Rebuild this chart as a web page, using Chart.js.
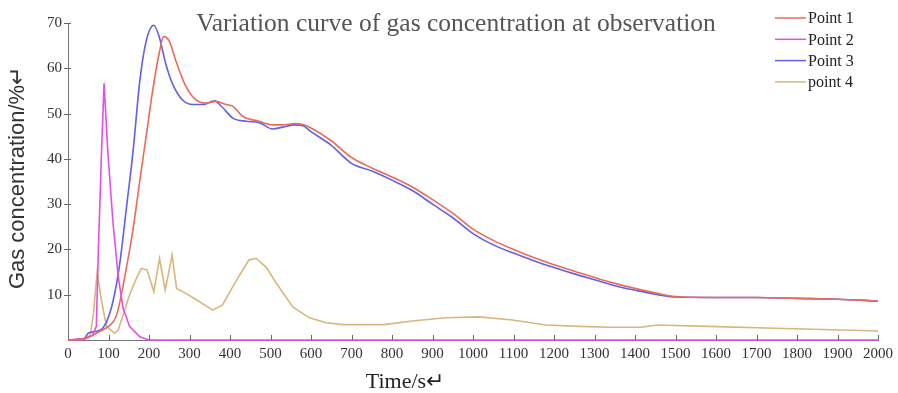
<!DOCTYPE html>
<html>
<head>
<meta charset="utf-8">
<script src="https://cdn.jsdelivr.net/npm/chart.js@4.4.1/dist/chart.umd.min.js"></script>
<style>
  body { margin: 0; background: #fff; }
  #wrap { width: 898px; height: 393px; position: relative; }
</style>
</head>
<body>
<div id="wrap"><canvas id="gasChart"></canvas></div>
<script>
// values
const seriesNames = ["Point 1", "Point 2", "Point 3", "point 4"]
const seriesColors = ["#ec6a5a", "#e44fe4", "#6060e8", "#d8b67c"]

const p1Time = [0, 40, 60, 80, 100, 120, 144, 161, 177, 193, 210, 226, 236, 250, 267, 291, 316, 340, 365, 390, 407, 431, 472, 505, 530, 560, 580, 600, 650, 700, 750, 800, 850, 900, 950, 1000, 1050, 1100, 1150, 1200, 1250, 1300, 1350, 1400, 1450, 1500, 1600, 1700, 1800, 1900, 2000]
const p1Conc = [0, 0.2, 1, 2, 3, 5.5, 15.8, 24.7, 35, 45, 55.6, 63.7, 67, 66, 61.5, 56, 53, 52.3, 52.7, 52, 51.6, 49.4, 48.3, 47.5, 47.5, 47.8, 47.6, 46.8, 44, 40.3, 38, 36, 33.8, 31, 28, 24.5, 22, 20, 18.2, 16.6, 15.2, 13.8, 12.5, 11.4, 10.4, 9.6, 9.4, 9.4, 9.2, 9, 8.6]

const p2Time = [0, 40, 60, 70, 75, 83, 89, 98, 111, 124, 136, 152, 177, 200, 2000]
const p2Conc = [0, 0.3, 1, 3, 20, 42, 56.7, 42, 26, 14, 7, 3, 0.7, 0, 0]

const p3Time = [0, 40, 50, 80, 95, 111, 128, 144, 161, 177, 193, 212, 226, 242, 259, 283, 308, 333, 362, 380, 407, 440, 472, 505, 530, 560, 580, 600, 650, 700, 750, 800, 850, 900, 950, 1000, 1050, 1100, 1150, 1200, 1250, 1300, 1350, 1400, 1450, 1500, 1600, 1700, 1800, 1900, 2000]
const p3Conc = [0, 0.3, 1.5, 2.2, 4, 8.5, 17, 29, 42, 57, 66, 69.5, 66.7, 60.8, 56.4, 53, 52, 52, 52.8, 51.5, 49, 48.3, 48, 46.6, 47, 47.5, 47.3, 46, 43, 39, 37.3, 35.3, 33, 30, 27, 23.5, 21, 19.2, 17.5, 16, 14.6, 13.3, 12, 11, 10.1, 9.5, 9.4, 9.4, 9.2, 9, 8.6]

const p4Time = [0, 40, 55, 63, 72, 82, 95, 115, 124, 136, 152, 169, 181, 195, 212, 226, 240, 257, 268, 291, 324, 357, 381, 414, 447, 465, 490, 514, 555, 596, 637, 680, 720, 780, 850, 932, 1015, 1097, 1180, 1262, 1340, 1415, 1456, 1580, 1745, 1910, 2000]
const p4Conc = [0, 0.2, 1, 6, 15, 9, 3, 1.5, 2.2, 5.5, 10, 13.6, 15.8, 15.5, 10.7, 18, 11, 18.8, 11.4, 10.3, 8.5, 6.6, 7.7, 12.9, 17.7, 18, 16, 12.6, 7.3, 4.9, 3.8, 3.4, 3.4, 3.4, 4.2, 4.9, 5.1, 4.4, 3.3, 3, 2.8, 2.8, 3.3, 3, 2.6, 2.2, 2]

const timeTicks = [0, 100, 200, 300, 400, 500, 600, 700, 800, 900, 1000, 1100, 1200, 1300, 1400, 1500, 1600, 1700, 1800, 1900, 2000]
const concTicks = [10, 20, 30, 40, 50, 60, 70]

const chartTitle = "Variation curve of gas concentration at observation"
const xTitle = "Time/s\u21b5"
const yTitle = "Gas concentration/%\u21b5"

const toPoints = (ts, vs) => ts.map((t, i) => ({ x: t, y: vs[i] }))

function createGasChart() {
  const series = [
    [p1Time, p1Conc, "monotone"],
    [p2Time, p2Conc, "default"],
    [p3Time, p3Conc, "monotone"],
    [p4Time, p4Conc, "default"],
  ]

  const data = {
    datasets: series.map((s, i) => ({
      label: seriesNames[i],
      data: toPoints(s[0], s[1]),
      borderColor: seriesColors[i],
      backgroundColor: seriesColors[i],
      borderWidth: 1.6,
      pointRadius: 0,
      clip: false,
      tension: s[2] === "monotone" ? 0.4 : 0,
      cubicInterpolationMode: s[2],
    })),
  }

  // titles, legend and inward tick marks
  const decor = {
    id: "decor",
    afterDraw(chart) {
      const { ctx, chartArea: a, scales } = chart
      ctx.save()
      ctx.strokeStyle = "#666"
      ctx.lineWidth = 1
      ctx.beginPath()
      timeTicks.forEach((t) => {
        const px = Math.round(scales.x.getPixelForValue(t)) + 0.5
        ctx.moveTo(px, a.bottom)
        ctx.lineTo(px, a.bottom - 5)
      })
      concTicks.forEach((v) => {
        const py = Math.round(scales.y.getPixelForValue(v)) + 0.5
        ctx.moveTo(a.left - 4, py)
        ctx.lineTo(a.left + 3, py)
      })
      ctx.stroke()

      ctx.fillStyle = "#555"
      ctx.textAlign = "center"
      ctx.textBaseline = "middle"
      ctx.font = "25.5px 'Liberation Serif', serif"
      ctx.fillText(chartTitle, 456, 24)

      ctx.fillStyle = "#222"
      ctx.font = "22px 'Liberation Serif', serif"
      ctx.fillText(xTitle, 405, 382)

      ctx.save()
      ctx.translate(18, 178)
      ctx.rotate(-Math.PI / 2)
      ctx.fillStyle = "#333"
      ctx.font = "22px 'Liberation Sans', sans-serif"
      ctx.fillText(yTitle, 0, 0)
      ctx.restore()

      ctx.textAlign = "left"
      ctx.font = "16px 'Liberation Serif', serif"
      seriesNames.forEach((name, i) => {
        const ly = 18 + i * 21.3
        ctx.strokeStyle = seriesColors[i]
        ctx.lineWidth = 1.5
        ctx.beginPath()
        ctx.moveTo(775, ly)
        ctx.lineTo(806, ly)
        ctx.stroke()
        ctx.fillStyle = "#222"
        ctx.fillText(name, 808, ly + 1)
      })
      ctx.restore()
    },
  }

  const tickFont = { family: "'Liberation Serif', serif", size: 15 }

  const config = {
    type: "line",
    data: data,
    options: {
      responsive: true,
      maintainAspectRatio: false,
      animation: false,
      layout: { padding: { top: 23, right: 18, left: 0, bottom: 0 } },
      plugins: {
        legend: { display: false },
        tooltip: { enabled: false },
      },
      scales: {
        x: {
          type: "linear",
          min: 0,
          max: 2000,
          afterBuildTicks: (scale) => {
            scale.ticks = timeTicks.map((v) => ({ value: v }))
          },
          afterFit: (scale) => {
            scale.height = 53
          },
          grid: { display: false, drawTicks: false },
          border: { display: true, color: "#777", width: 1 },
          ticks: {
            autoSkip: false,
            maxRotation: 0,
            padding: 5,
            color: "#333",
            font: tickFont,
            callback: (v) => String(v),
          },
        },
        y: {
          min: 0,
          max: 70,
          afterBuildTicks: (scale) => {
            scale.ticks = concTicks.map((v) => ({ value: v }))
          },
          afterFit: (scale) => {
            scale.width = 68
          },
          grid: { display: false, drawTicks: false },
          border: { display: true, color: "#777", width: 1 },
          ticks: {
            padding: 6,
            color: "#333",
            font: tickFont,
            callback: (v) => String(v),
          },
        },
      },
    },
    plugins: [decor],
  }

  const ctx = document.getElementById("gasChart")
  new Chart(ctx, config)
}

document.addEventListener("DOMContentLoaded", () => {
  createGasChart()
})
</script>
</body>
</html>
